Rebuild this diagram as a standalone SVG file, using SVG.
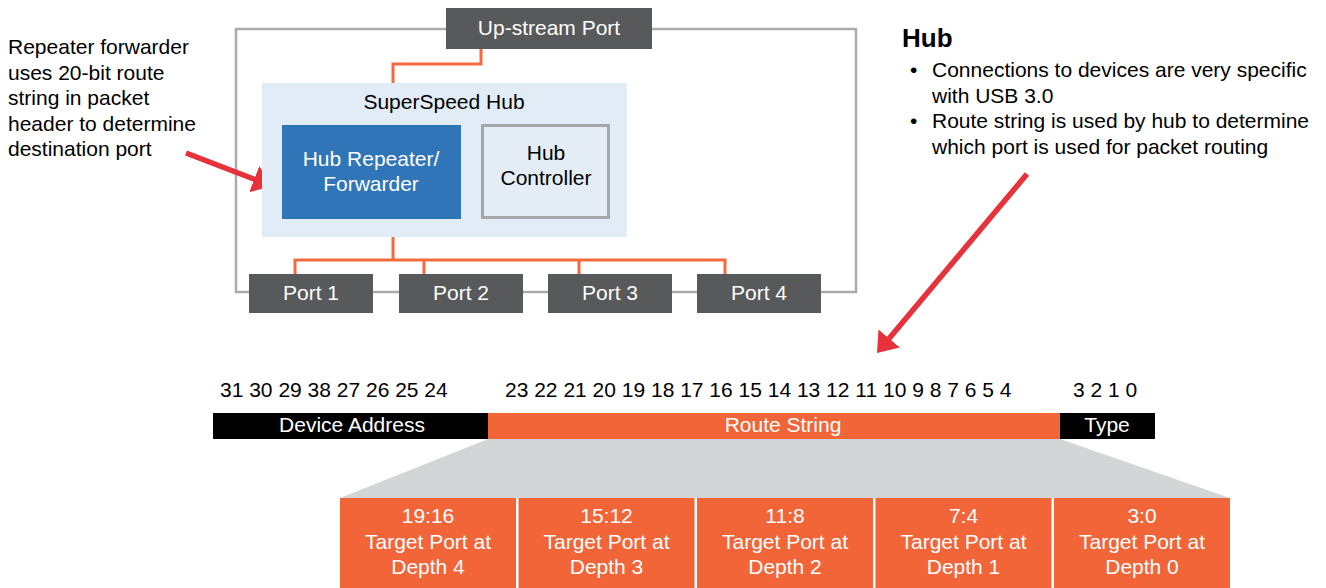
<svg xmlns="http://www.w3.org/2000/svg" width="1326" height="588" viewBox="0 0 1326 588">
  <style>
    text { font-family: "Liberation Sans", Arial, sans-serif; font-size: 21px; }
    .w { fill: #ffffff; }
    .k { fill: #000000; }
    .mid { text-anchor: middle; }
    .title { font-size: 26px; font-weight: bold; }
    .port { fill: #58595b; }
    .wire { fill: none; stroke: #f26a3d; stroke-width: 3; }
    .frame { fill: none; stroke: #ababab; stroke-width: 2.5; }
    .orange { fill: #f26539; }
    .pointer { stroke: #e5323b; stroke-width: 5.5; fill: none; }
  </style>
  <defs>
    <marker id="redHead" markerUnits="userSpaceOnUse" markerWidth="20" markerHeight="28" refX="7" refY="14" orient="auto" viewBox="0 0 20 28">
      <path d="M0,0 L19,14 L0,28 z" fill="#e5323b"/>
    </marker>
  </defs>

  <rect width="1326" height="588" fill="#ffffff"/>

  <!-- hub enclosure outline -->
  <rect class="frame" x="236" y="29" width="620" height="263"/>

  <!-- connectors -->
  <g id="connectors">
    <path class="wire" d="M481,48 V64 H393 V84"/>
    <path class="wire" d="M393,236 V260 M295,274 V260 H725 V274 M424,260 V274 M579,260 V274"/>
    <line class="pointer" x1="186" y1="153" x2="260.8" y2="181.7" marker-end="url(#redHead)"/>
    <line class="pointer" x1="1027" y1="174" x2="884.7" y2="343.8" marker-end="url(#redHead)"/>
  </g>

  <g id="upstream-port">
    <rect class="port" x="446" y="8" width="206" height="41"/>
    <text class="w mid" x="549" y="35">Up-stream Port</text>
  </g>

  <g id="superspeed-hub">
    <rect x="262" y="83" width="365" height="154" fill="#e2ecf6"/>
    <text class="k mid" x="444" y="109">SuperSpeed Hub</text>
  </g>

  <g id="hub-repeater">
    <rect x="282" y="125" width="179" height="94" fill="#2f75b8"/>
    <text class="w mid" x="371" y="166">Hub Repeater/</text>
    <text class="w mid" x="371" y="191">Forwarder</text>
  </g>

  <g id="hub-controller">
    <rect x="482.5" y="125.5" width="126" height="92" fill="#e4edf6" stroke="#a6a7a9" stroke-width="3"/>
    <text class="k mid" x="546" y="160">Hub</text>
    <text class="k mid" x="546" y="185">Controller</text>
  </g>

  <g id="port-1">
    <rect class="port" x="249" y="274" width="124" height="39"/>
    <text class="w mid" x="311" y="300">Port 1</text>
  </g>
  <g id="port-2">
    <rect class="port" x="399" y="274" width="124" height="39"/>
    <text class="w mid" x="461" y="300">Port 2</text>
  </g>
  <g id="port-3">
    <rect class="port" x="548" y="274" width="124" height="39"/>
    <text class="w mid" x="610" y="300">Port 3</text>
  </g>
  <g id="port-4">
    <rect class="port" x="697" y="274" width="124" height="39"/>
    <text class="w mid" x="759" y="300">Port 4</text>
  </g>

  <g id="repeater-note">
    <text class="k" x="8" y="54">Repeater forwarder</text>
    <text class="k" x="8" y="79.5">uses 20-bit route</text>
    <text class="k" x="8" y="105">string in packet</text>
    <text class="k" x="8" y="130.5">header to determine</text>
    <text class="k" x="8" y="156">destination port</text>
  </g>

  <g id="hub-notes">
    <text class="k title" x="902" y="47">Hub</text>
    <text class="k" x="910" y="77">•</text>
    <text class="k" x="932" y="77">Connections to devices are very specific</text>
    <text class="k" x="932" y="102.5">with USB 3.0</text>
    <text class="k" x="910" y="128">•</text>
    <text class="k" x="932" y="128">Route string is used by hub to determine</text>
    <text class="k" x="932" y="153.5">which port is used for packet routing</text>
  </g>

  <g id="bit-numbers">
    <text class="k" x="220" y="397">31 30 29 38 27 26 25 24</text>
    <text class="k" x="505" y="397">23 22 21 20 19 18 17 16 15 14 13 12 11 10 9 8 7 6 5 4</text>
    <text class="k" x="1073" y="397">3 2 1 0</text>
  </g>

  <g id="header-fields">
    <rect x="213" y="413" width="942" height="26" fill="#000000"/>
    <rect class="orange" x="488" y="413" width="572" height="26"/>
    <text class="w mid" x="352" y="432">Device Address</text>
    <text class="w mid" x="783" y="432">Route String</text>
    <text class="w mid" x="1107" y="432">Type</text>
  </g>

  <!-- expansion of the route string -->
  <polygon points="488,439 1060,439 1230,498 340,498" fill="#d4d5d7"/>

  <g id="depth-4">
    <rect class="orange" x="340" y="498" width="176" height="90"/>
    <text class="w mid" x="428" y="523">19:16</text>
    <text class="w mid" x="428" y="549">Target Port at</text>
    <text class="w mid" x="428" y="574">Depth 4</text>
  </g>
  <g id="depth-3">
    <rect class="orange" x="518.5" y="498" width="176" height="90"/>
    <text class="w mid" x="606.5" y="523">15:12</text>
    <text class="w mid" x="606.5" y="549">Target Port at</text>
    <text class="w mid" x="606.5" y="574">Depth 3</text>
  </g>
  <g id="depth-2">
    <rect class="orange" x="697" y="498" width="176" height="90"/>
    <text class="w mid" x="785" y="523">11:8</text>
    <text class="w mid" x="785" y="549">Target Port at</text>
    <text class="w mid" x="785" y="574">Depth 2</text>
  </g>
  <g id="depth-1">
    <rect class="orange" x="875.5" y="498" width="176" height="90"/>
    <text class="w mid" x="963.5" y="523">7:4</text>
    <text class="w mid" x="963.5" y="549">Target Port at</text>
    <text class="w mid" x="963.5" y="574">Depth 1</text>
  </g>
  <g id="depth-0">
    <rect class="orange" x="1054" y="498" width="176" height="90"/>
    <text class="w mid" x="1142" y="523">3:0</text>
    <text class="w mid" x="1142" y="549">Target Port at</text>
    <text class="w mid" x="1142" y="574">Depth 0</text>
  </g>
</svg>
